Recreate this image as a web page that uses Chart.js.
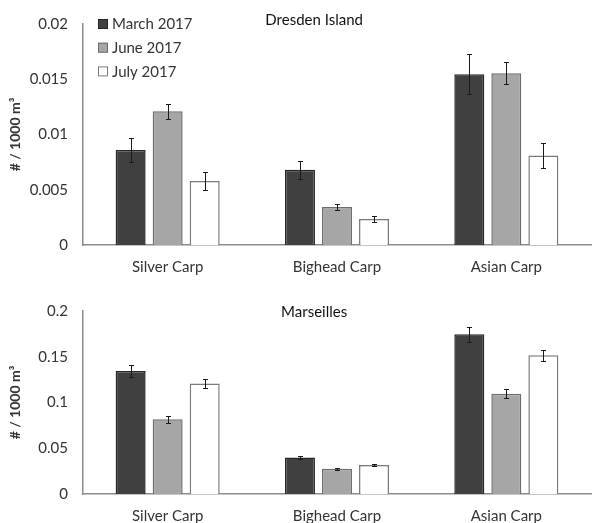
<!DOCTYPE html>
<html>
<head>
<meta charset="utf-8">
<script src="https://cdn.jsdelivr.net/npm/chart.js@4/dist/chart.umd.min.js"></script>
<style>
  html, body { margin: 0; padding: 0; background: #ffffff; }
  #wrap { position: relative; width: 592px; height: 523px; overflow: hidden; }
  .panel { position: absolute; left: 0; width: 592px; }
  #top { top: 0; height: 290px; }
  #bottom { top: 290px; height: 233px; }
</style>
</head>
<body>
<div id="wrap">
  <div class="panel" id="top"><canvas id="c1" width="592" height="290"></canvas></div>
  <div class="panel" id="bottom"><canvas id="c2" width="592" height="233"></canvas></div>
</div>
<script>
// Categories and survey months
const categories = ['Silver Carp', 'Bighead Carp', 'Asian Carp'];
const seriesNames = ['March 2017', 'June 2017', 'July 2017'];

// Dresden Island densities (# / 1000 m³) and standard errors
const dresdenMarch = [0.0086, 0.0068, 0.01545];
const dresdenJune  = [0.0121, 0.00345, 0.01555];
const dresdenJuly  = [0.0058, 0.00235, 0.0081];
const dresdenMarchErr = [0.0011, 0.0008, 0.0018];
const dresdenJuneErr  = [0.0007, 0.00025, 0.001];
const dresdenJulyErr  = [0.0008, 0.0003, 0.0011];

// Marseilles densities (# / 1000 m³) and standard errors
const marseillesMarch = [0.1343, 0.0399, 0.1746];
const marseillesJune  = [0.0817, 0.0276, 0.1096];
const marseillesJuly  = [0.1209, 0.0316, 0.1517];
const marseillesMarchErr = [0.0064, 0.002, 0.0084];
const marseillesJuneErr  = [0.0036, 0.001, 0.005];
const marseillesJulyErr  = [0.005, 0.0015, 0.006];

// Y-axis tick values and their labels
const dresdenTickValues = [0, 0.005, 0.01, 0.015, 0.02];
const dresdenTickLabels = ['0', '0.005', '0.01', '0.015', '0.02'];
const marseillesTickValues = [0, 0.05, 0.1, 0.15, 0.2];
const marseillesTickLabels = ['0', '0.05', '0.1', '0.15', '0.2'];

const FONT = 'Lato, "Open Sans", sans-serif';
const TEXT = '#333333';
const AXIS = '#8c8c8c';

const fills   = ['#404040', '#a6a6a6', '#ffffff'];
const borders = ['#262626', '#6e6e6e', '#7a7a7a'];

function makeDatasets(values, errors) {
  return values.map((v, i) => ({
    label: seriesNames[i],
    data: v,
    errors: errors[i],
    backgroundColor: fills[i],
    borderColor: borders[i],
    borderWidth: 1.5,
    categoryPercentage: 0.656,
    barPercentage: 0.81
  }));
}

// Error bars drawn from each bar's value ± its error through the y scale
const errorBars = {
  id: 'errorBars',
  afterDatasetsDraw(chart) {
    const ctx = chart.ctx;
    const y = chart.scales.y;
    ctx.save();
    ctx.strokeStyle = '#1a1a1a';
    ctx.lineWidth = 1;
    chart.data.datasets.forEach((ds, i) => {
      const meta = chart.getDatasetMeta(i);
      meta.data.forEach((bar, j) => {
        const v = ds.data[j], e = ds.errors[j];
        const yHi = Math.round(y.getPixelForValue(v + e)) + 0.5;
        const yLo = Math.round(y.getPixelForValue(v - e)) + 0.5;
        const x = Math.round(bar.x) + 0.5;
        ctx.beginPath();
        ctx.moveTo(x, yHi); ctx.lineTo(x, yLo);
        ctx.moveTo(x - 2.5, yHi); ctx.lineTo(x + 2.5, yHi);
        ctx.moveTo(x - 2.5, yLo); ctx.lineTo(x + 2.5, yLo);
        ctx.stroke();
      });
    });
    ctx.restore();
  }
};

// Panel title placed over the plot area
const panelTitle = {
  id: 'panelTitle',
  afterDraw(chart, args, opts) {
    if (!opts.text) return;
    const ctx = chart.ctx, a = chart.chartArea;
    ctx.save();
    ctx.font = '15px ' + FONT;
    ctx.fillStyle = '#111111';
    ctx.textAlign = 'center';
    ctx.textBaseline = 'middle';
    ctx.fillText(opts.text, a.left + opts.xFrac * (a.right - a.left), a.top + opts.dy);
    ctx.restore();
  }
};

// Vertical legend in the upper-left corner of the plot area
const cornerLegend = {
  id: 'cornerLegend',
  afterDraw(chart, args, opts) {
    if (!opts.show) return;
    const ctx = chart.ctx, a = chart.chartArea;
    ctx.save();
    ctx.font = '15px ' + FONT;
    ctx.textBaseline = 'middle';
    ctx.textAlign = 'left';
    chart.data.datasets.forEach((ds, i) => {
      const cy = a.top + opts.dy + i * opts.rowGap;
      const bx = a.left + opts.dx;
      ctx.fillStyle = ds.backgroundColor;
      ctx.fillRect(bx, cy - 5, 10, 10);
      ctx.strokeStyle = ds.borderColor;
      ctx.lineWidth = 1;
      ctx.strokeRect(bx + 0.5, cy - 4.5, 9, 9);
      ctx.fillStyle = TEXT;
      ctx.fillText(ds.label, bx + 14, cy + 0.5);
    });
    ctx.restore();
  }
};

function makeChart(canvasId, values, errors, tickValues, tickLabels, padTop, xAxisHeight, title, titleDy, legend) {
  return new Chart(document.getElementById(canvasId), {
    type: 'bar',
    data: { labels: categories, datasets: makeDatasets(values, errors) },
    options: {
      responsive: false,
      animation: false,
      devicePixelRatio: 1,
      layout: { padding: { top: padTop, right: 1, left: 0, bottom: 0 } },
      plugins: {
        legend: { display: false },
        tooltip: { enabled: false },
        panelTitle: { text: title, xFrac: 0.455, dy: titleDy },
        cornerLegend: { show: legend, dx: 15, dy: 0, rowGap: 23.7 }
      },
      scales: {
        x: {
          grid: { display: false, drawTicks: false },
          border: { display: true, color: AXIS, width: 1.5 },
          ticks: { color: TEXT, font: { family: FONT, size: 15 }, padding: 13, maxRotation: 0 },
          afterFit(s) { s.height = xAxisHeight; }
        },
        y: {
          min: tickValues[0],
          max: tickValues[tickValues.length - 1],
          afterBuildTicks(s) { s.ticks = tickValues.map(v => ({ value: v })); },
          grid: { display: false, drawOnChartArea: false, drawTicks: true, tickLength: 5, color: AXIS, tickWidth: 1.5 },
          border: { display: true, color: AXIS, width: 1.5 },
          ticks: {
            color: TEXT,
            font: { family: FONT, size: 15 },
            padding: 10,
            callback: (v, i) => tickLabels[tickValues.indexOf(v)] ?? tickLabels[i]
          },
          title: {
            display: true,
            text: '# / 1000 m³',
            color: TEXT,
            font: { family: FONT, size: 14, weight: 'bold' },
            padding: { top: 7, bottom: 0 }
          },
          afterFit(s) { s.width = 83; }
        }
      }
    },
    plugins: [errorBars, panelTitle, cornerLegend]
  });
}

makeChart('c1',
  [dresdenMarch, dresdenJune, dresdenJuly],
  [dresdenMarchErr, dresdenJuneErr, dresdenJulyErr],
  dresdenTickValues, dresdenTickLabels,
  24, 45, 'Dresden Island', -4, true);

makeChart('c2',
  [marseillesMarch, marseillesJune, marseillesJuly],
  [marseillesMarchErr, marseillesJuneErr, marseillesJulyErr],
  marseillesTickValues, marseillesTickLabels,
  21, 29, 'Marseilles', 1, false);
</script>
</body>
</html>
